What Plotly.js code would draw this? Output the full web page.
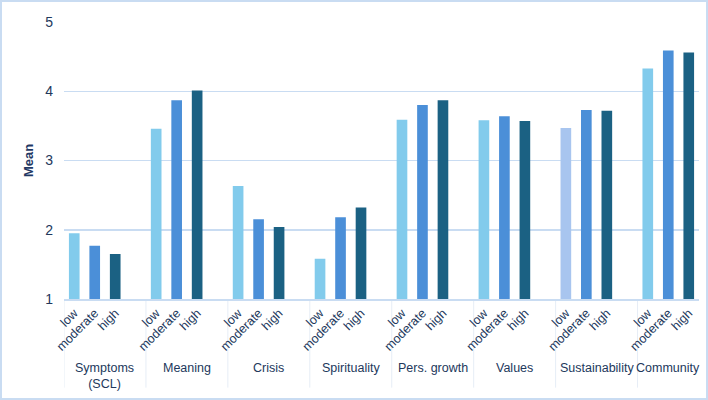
<!DOCTYPE html>
<html>
<head>
<meta charset="utf-8">
<script src="https://cdn.plot.ly/plotly-3.0.1.min.js"></script>
<style>
  html, body { margin: 0; padding: 0; background: #fff; }
  #wrap { position: relative; width: 708px; height: 400px; }
  #chart { width: 708px; height: 400px; }
  #frame { position: absolute; left: 0; top: 0; width: 708px; height: 400px; box-sizing: border-box;
           border: 2px solid #c9dcf2; pointer-events: none; }
</style>
</head>
<body>
<div id="wrap"><div id="chart"></div><div id="frame"></div></div>
<script>
const groups = ["Symptoms<br>(SCL)", "Meaning", "Crisis", "Spirituality", "Pers. growth", "Values", "Sustainability", "Community"];
const levels = ["low", "moderate", "high"];
const lowVals      = [1.95, 3.46, 2.63, 1.58, 3.59, 3.58, 3.47, 4.33];
const moderateVals = [1.77, 3.87, 2.15, 2.18, 3.80, 3.64, 3.73, 4.59];
const highVals     = [1.65, 4.01, 2.04, 2.32, 3.87, 3.57, 3.72, 4.56];
const lowColors = ["#82cbec", "#82cbec", "#82cbec", "#82cbec", "#82cbec", "#82cbec", "#a8c5ef", "#82cbec"];
const moderateColor = "#4b8fd8";
const highColor = "#1b6183";

const SLOT = levels.length + 1; // three bars plus a gap slot per group
const xs = [], ys = [], cols = [], tickvals = [], ticktext = [];
groups.forEach((g, i) => {
  const vals = [lowVals[i], moderateVals[i], highVals[i]];
  const c = [lowColors[i], moderateColor, highColor];
  levels.forEach((l, j) => {
    const pos = SLOT * i + j;
    xs.push(pos); ys.push(vals[j]); cols.push(c[j]);
    tickvals.push(pos); ticktext.push(l);
  });
});
const xmax = SLOT * (groups.length - 1) + levels.length - 0.5;

const txt = "#22385c";
const annotations = groups.map((g, i) => ({
  x: SLOT * i + (i < groups.length - 1 ? (SLOT - 1) / 2 : (levels.length - 1) / 2),
  xref: "x", y: -0.215, yref: "paper",
  text: g, showarrow: false, yanchor: "top", xanchor: "center",
  font: { size: 12.5, color: txt }
}));
const shapes = groups.map((g, i) => ({
  type: "line", xref: "x", yref: "paper", layer: "below",
  x0: SLOT * i - 0.5, x1: SLOT * i - 0.5, y0: 0, y1: -0.32,
  line: { color: "#e6edf6", width: 1 }
}));

const data = [{
  type: "bar",
  x: xs,
  y: ys,
  width: 0.52,
  marker: { color: cols, line: { width: 0 } },
  hoverinfo: "y",
  showlegend: false
}];

const layout = {
  width: 708, height: 400,
  margin: { l: 64, r: 9, t: 22, b: 101 },
  paper_bgcolor: "#ffffff",
  plot_bgcolor: "#ffffff",
  font: { family: "Liberation Sans, Arial, sans-serif", size: 12.5, color: txt },
  xaxis: {
    range: [-0.5, xmax],
    tickvals: tickvals,
    ticktext: ticktext,
    tickangle: -45,
    showgrid: false,
    zeroline: false,
    showline: true,
    linecolor: "#c9dcf2",
    linewidth: 2,
    ticks: "",
    tickfont: { size: 12.5, color: txt }
  },
  yaxis: {
    range: [1, 5],
    tickvals: [1, 2, 3, 4, 5],
    showgrid: true,
    gridcolor: "#c9dcf2",
    gridwidth: 1.5,
    zeroline: false,
    showline: false,
    ticks: "",
    ticklabelstandoff: 10,
    tickfont: { size: 14, color: txt },
    title: { text: "<b>Mean</b>", font: { size: 13, color: "#1f3864" }, standoff: 8 }
  },
  annotations: annotations,
  shapes: shapes
};

Plotly.newPlot("chart", data, layout, { displayModeBar: false, staticPlot: true });
</script>
</body>
</html>
